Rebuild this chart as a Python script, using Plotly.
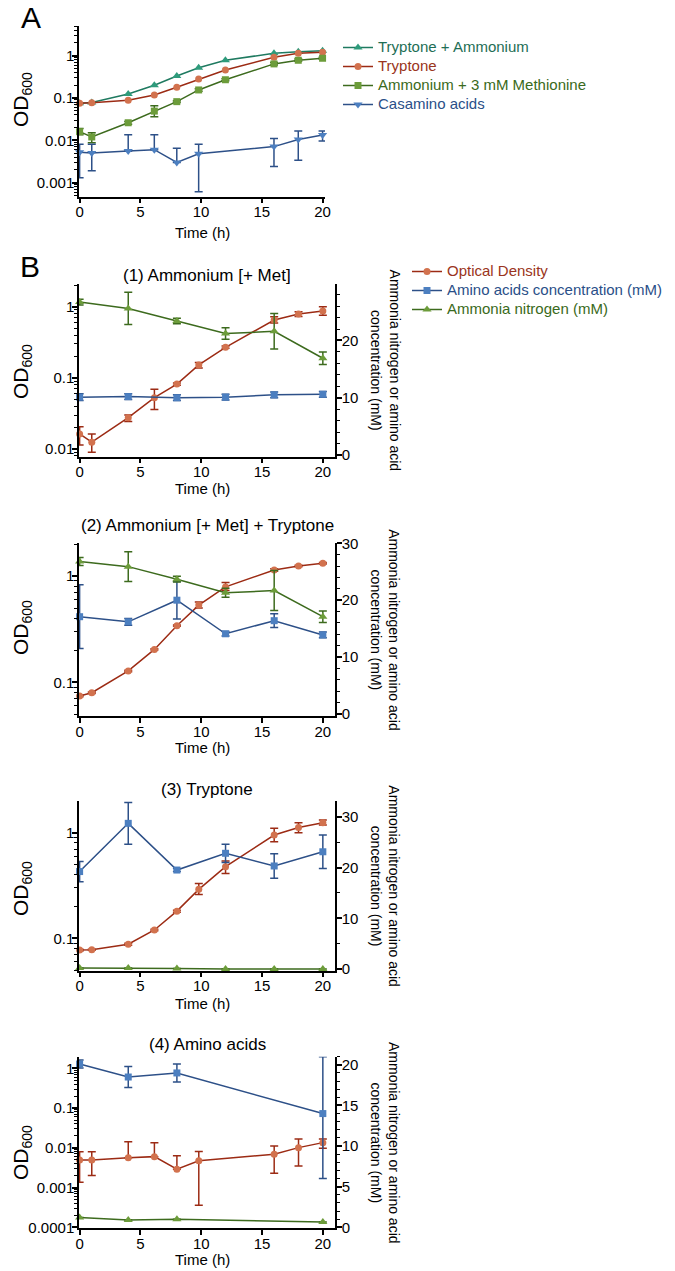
import plotly.graph_objects as go

# ---------------- data ----------------
# Panel A : OD600 over time for four media
time_a = [0, 1, 4, 6.15, 8, 9.8, 12, 16, 18, 20]
tryp_amm = [0.075, 0.078, 0.124, 0.20, 0.33, 0.52, 0.78, 1.14, 1.24, 1.31]
tryp = [0.075, 0.077, 0.088, 0.118, 0.18, 0.28, 0.46, 0.92, 1.14, 1.2]
amm_met = [0.016, 0.012, 0.026, 0.049, 0.082, 0.155, 0.27, 0.64, 0.78, 0.87]
amm_met_hi = [0.019, 0.015, 0.028, 0.066, 0.086, 0.165, 0.285, 0.69, 0.83, 0.92]
amm_met_lo = [0.0135, 0.0088, 0.024, 0.036, 0.078, 0.145, 0.255, 0.6, 0.74, 0.82]
time_casa = [0, 1, 4, 6.15, 8, 9.8, 16, 18, 20]
casa = [0.0052, 0.005, 0.0056, 0.006, 0.003, 0.0048, 0.0071, 0.0105, 0.0133]
casa_hi = [0.0081, 0.0081, 0.0136, 0.0136, 0.0065, 0.0081, 0.0111, 0.0166, 0.0166]
casa_lo = [0.0013, 0.0019, 0.0056, 0.006, 0.003, 0.00061, 0.0024, 0.0034, 0.0096]

# Panel B : OD (left, log) + amino acids / ammonia nitrogen in mM (right)
time_n = [0, 4, 8, 12, 16, 20]

od1 = [0.0163, 0.0125, 0.0276, 0.0527, 0.082, 0.152, 0.269, 0.65, 0.79, 0.87]
od1_hi = [0.0206, 0.0163, 0.030, 0.069, 0.085, 0.165, 0.28, 0.72, 0.85, 1.0]
od1_lo = [0.0114, 0.009, 0.0245, 0.036, 0.079, 0.138, 0.26, 0.59, 0.73, 0.76]
aa1 = [10.1, 10.2, 10.0, 10.1, 10.5, 10.6]
aa1_err = [0.6, 0.5, 0.5, 0.5, 0.5, 0.5]
nh1 = [26.7, 25.6, 23.4, 21.2, 21.6, 16.9]
nh1_err = [0.5, 2.8, 0.5, 1.0, 3.1, 1.1]

od2 = [0.0743, 0.0798, 0.128, 0.204, 0.341, 0.533, 0.79, 1.14, 1.24, 1.32]
od2_hi = [0.076, 0.081, 0.13, 0.207, 0.346, 0.57, 0.87, 1.17, 1.26, 1.34]
od2_lo = [0.073, 0.0785, 0.126, 0.201, 0.336, 0.50, 0.73, 1.11, 1.22, 1.30]
aa2 = [17.1, 16.2, 20.0, 14.1, 16.4, 13.9]
aa2_err = [5.6, 0.6, 3.3, 0.4, 1.2, 0.5]
nh2 = [26.8, 25.9, 23.7, 21.3, 21.7, 17.1]
nh2_err = [0.7, 2.6, 0.5, 0.8, 3.5, 1.0]

od3 = [0.0777, 0.078, 0.088, 0.12, 0.181, 0.291, 0.477, 0.95, 1.12, 1.24]
od3_hi = [0.079, 0.079, 0.09, 0.122, 0.185, 0.33, 0.54, 1.1, 1.24, 1.32]
od3_lo = [0.076, 0.077, 0.086, 0.118, 0.177, 0.26, 0.41, 0.82, 1.0, 1.18]
aa3 = [19.2, 28.7, 19.5, 22.8, 20.3, 23.1]
aa3_err = [2.0, 4.1, 0.3, 1.8, 2.4, 3.3]
nh3 = [0.2, 0.2, 0.1, 0.0, 0.0, 0.0]
nh3_err = [0, 0, 0, 0, 0, 0]

time_4 = [0, 1, 4, 6.15, 8, 9.8, 16, 18, 20]
od4 = [0.0049, 0.0049, 0.0056, 0.006, 0.0029, 0.0047, 0.0069, 0.0101, 0.0135]
od4_hi = [0.008, 0.008, 0.0143, 0.0135, 0.0063, 0.0081, 0.0111, 0.0166, 0.0166]
od4_lo = [0.00136, 0.002, 0.0056, 0.006, 0.0029, 0.00036, 0.0023, 0.0035, 0.0097]
time_n4 = [0, 4, 8, 20]
aa4 = [20.1, 18.5, 19.0, 14.0]
aa4_err = [0.5, 1.3, 1.1, 8.0]
aa4_err_up = [0.5, 1.3, 1.1, 7.0]   # upper bar at 20 h runs off the top of the axis
nh4 = [1.2, 0.9, 1.0, 0.65]
nh4_err = [0, 0, 0, 0]

panel_titles = ["(1) Ammonium [+ Met]", "(2) Ammonium [+ Met] + Tryptone",
                "(3) Tryptone", "(4) Amino acids"]
log_ticks = [0.0001, 0.001, 0.01, 0.1, 1]
log_ticktext = ["0.0001", "0.001", "0.01", "0.1", "1"]
x_ticks = [0, 5, 10, 15, 20]

# ---------------- styling ----------------
W, H = 675, 1271
OFF = 8  # the page body margin shifts the whole figure by 8px
FONT = "Arial, Liberation Sans, sans-serif"
TEAL, TEAL_M, TEAL_T = "#1f7a60", "#2e9b7b", "#1e6e55"
RED, ORANGE, RED_T = "#9c2b14", "#d2724e", "#9a3420"
GREEN, GREEN_M, GREEN_T = "#3d6b1e", "#6c9c3a", "#3a6a20"
BLUE, BLUE_M, BLUE_T = "#2d5088", "#4c7fc0", "#2a4f88"


def fx(p):
    return (p - OFF) / W


def fy(p):
    return 1 - (p - OFF) / H


def bars(vals, hi, lo, color):
    return dict(type="data", symmetric=False,
                array=[h - v for v, h in zip(vals, hi)],
                arrayminus=[v - l for v, l in zip(vals, lo)],
                color=color, thickness=1.5, width=4)


def sym_bars(err, color, up=None):
    return dict(type="data", symmetric=False, array=up or err, arrayminus=err,
                color=color, thickness=1.5, width=4)


def series(x, y, name, line, marker, symbol, xa, ya, err=None, legend="legend",
           show=True, size=7):
    return go.Scatter(x=x, y=y, name=name, mode="lines+markers", xaxis=xa, yaxis=ya,
                      line=dict(color=line, width=1.5),
                      marker=dict(color=marker, symbol=symbol, size=size),
                      error_y=err, legend=legend, showlegend=show, cliponaxis=False)


def colored(text, c):
    return f'<span style="color:{c};font-size:15px">{text}</span>'


def note(text, x, y, size, angle=0):
    return dict(text=text, x=fx(x), y=fy(y), xref="paper", yref="paper", showarrow=False,
                xanchor="center", yanchor="middle", textangle=angle,
                font=dict(size=size, color="black"))


fig = go.Figure()

# panel A
fig.add_trace(series(time_a, tryp_amm, colored("Tryptone + Ammonium", TEAL_T), TEAL, TEAL_M,
                     "triangle-up", "x", "y", size=8))
fig.add_trace(series(time_a, tryp, colored("Tryptone", RED_T), RED, ORANGE, "circle", "x", "y"))
fig.add_trace(series(time_a, amm_met, colored("Ammonium + 3 mM Methionine", GREEN_T), GREEN,
                     GREEN_M, "square", "x", "y", bars(amm_met, amm_met_hi, amm_met_lo, GREEN)))
fig.add_trace(series(time_casa, casa, colored("Casamino acids", BLUE_T), BLUE, BLUE_M,
                     "triangle-down", "x", "y", bars(casa, casa_hi, casa_lo, BLUE), size=8))

# panel B
b_sets = [
    (time_a, od1, od1_hi, od1_lo, time_n, aa1, aa1_err, None, nh1, nh1_err),
    (time_a, od2, od2_hi, od2_lo, time_n, aa2, aa2_err, None, nh2, nh2_err),
    (time_a, od3, od3_hi, od3_lo, time_n, aa3, aa3_err, None, nh3, nh3_err),
    (time_4, od4, od4_hi, od4_lo, time_n4, aa4, aa4_err, aa4_err_up, nh4, nh4_err),
]
for i, (t, od, hi, lo, tn, aa, aae, aau, nh, nhe) in enumerate(b_sets):
    xa, yl, yr = f"x{i + 2}", f"y{i + 2}", f"y{i + 6}"
    show = i == 0
    fig.add_trace(series(t, od, colored("Optical Density", RED_T), RED, ORANGE, "circle",
                         xa, yl, bars(od, hi, lo, RED), "legend2", show))
    fig.add_trace(series(tn, aa, colored("Amino acids concentration (mM)", BLUE_T), BLUE, BLUE_M,
                         "square", xa, yr, sym_bars(aae, BLUE, aau), "legend2", show))
    fig.add_trace(series(tn, nh, colored("Ammonia nitrogen (mM)", GREEN_T), GREEN, GREEN_M,
                         "triangle-up", xa, yr, sym_bars(nhe, GREEN), "legend2", show, size=8))

# ---------------- axes ----------------
axis_common = dict(showgrid=False, zeroline=False, showline=True, linecolor="black",
                   linewidth=1.5, ticks="outside", ticklen=5, tickwidth=1.5,
                   tickcolor="black", tickfont=dict(size=15, color="black"),
                   automargin=False)

# (top px, bottom px, log range, x right px, x max, OD label y, right range, right dtick, right minor)
panels = [
    (26, 196.7, [-3.333, 0.702], 325, 20.2, 100, None, None, None),
    (283.5, 456.7, [-2.107, 0.326], 335, 21.0, 372, [-0.3, 29.95], 10, 2),
    (543.3, 716, [-1.317, 0.308], 335, 21.0, 628, [-0.35, 30], 10, 2),
    (801, 970.7, [-1.306, 0.300], 335, 21.0, 889, [-0.33, 33.1], 10, 5),
    (1056.7, 1228.3, [-4.025, 0.292], 335, 21.0, 1153, [-0.12, 21], 5, 1),
]
time_y = [233, 488, 747.7, 1003.3, 1259.3]
title_y = [None, 275, 525.8, 789.5, 1044]

annotations = []
for i, (top, bot, lrange, xr, xmax, ody, rrange, rdt, rminor) in enumerate(panels):
    n = "" if i == 0 else str(i + 1)
    lo_dec, hi_dec = int(lrange[0]) - 1, int(lrange[1]) + 1
    minor_vals = [m * 10 ** k for k in range(lo_dec, hi_dec + 1) for m in range(2, 10)]
    fig.layout["xaxis" + n] = dict(axis_common, domain=[fx(79), fx(xr)], range=[-0.05, xmax],
                                    tickvals=x_ticks, anchor="y" + n, ticklabelstandoff=-4)
    fig.layout["yaxis" + n] = dict(axis_common, type="log", domain=[fy(bot), fy(top)],
                                    range=lrange, anchor="x" + n, tickvals=log_ticks,
                                    ticktext=log_ticktext, ticklabelstandoff=-5,
                                    minor=dict(tickvals=minor_vals, ticks="outside", ticklen=3,
                                               tickwidth=1, tickcolor="black"))
    annotations.append(note("OD<sub><span style='font-size:14px'>600</span></sub>", 22, ody,
                            21, -90))
    annotations.append(note("Time (h)", 202, time_y[i], 15))
    if rrange is not None:
        fig.layout[f"yaxis{i + 5}"] = dict(axis_common, range=rrange, overlaying="y" + n,
                                           side="right", anchor="x" + n, dtick=rdt, tick0=0,
                                           ticklabelstandoff=-3,
                                           minor=dict(dtick=rminor, ticks="outside", ticklen=3,
                                                      tickwidth=1.2, tickcolor="black"))
        annotations.append(note("Ammonia nitrogen or amino acid<br>concentration (mM)",
                                385.5, (top + bot) / 2, 14, 90))
        annotations.append(note(panel_titles[i - 1], 207, title_y[i], 17))

annotations.append(note("A", 31, 18, 30))
annotations.append(note("B", 30, 267, 30))

fig.update_layout(
    template="none",
    width=W, height=H,
    margin=dict(l=0, r=0, t=0, b=0, autoexpand=False),
    paper_bgcolor="white", plot_bgcolor="white",
    font=dict(family=FONT, color="black"),
    annotations=annotations,
    legend=dict(x=fx(338), y=fy(33), xanchor="left", yanchor="top",
                font=dict(size=12), bgcolor="rgba(0,0,0,0)", tracegroupgap=0),
    legend2=dict(x=fx(407), y=fy(257), xanchor="left", yanchor="top",
                 font=dict(size=12), bgcolor="rgba(0,0,0,0)", tracegroupgap=0),
)

fig.write_html("out.html")
